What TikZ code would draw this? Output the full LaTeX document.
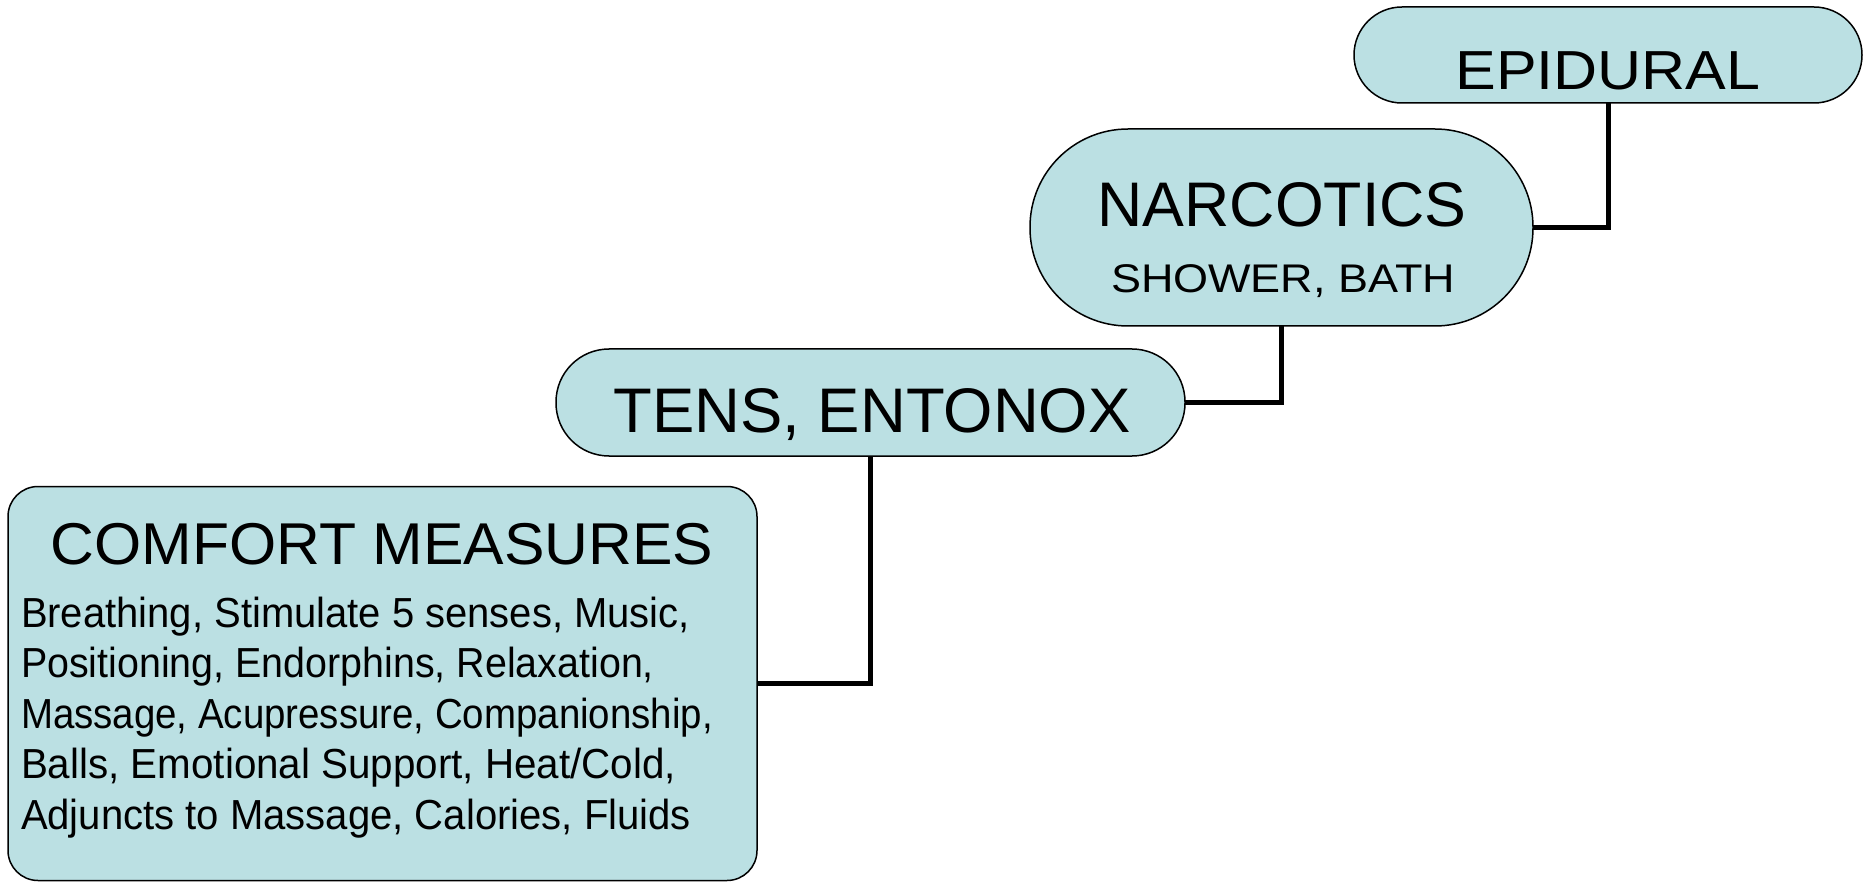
\documentclass[tikz,border=0pt]{standalone}
\usepackage{fontspec}
\setmainfont{Liberation Sans}
\usepackage{graphicx}
\definecolor{boxfill}{HTML}{BBE0E3}
\newsavebox\mybx
\newlength\mylen
\newcommand\fitw[2]{\sbox\mybx{#2}\setlength\mylen{\wd\mybx}\pgfmathsetmacro\rat{#1/\mylen}\scalebox{\rat}[1]{\usebox\mybx}}
\newcommand\fsz[1]{\fontsize{#1}{#1}\selectfont}
\tikzset{
  box/.style={draw=black, line width=1.5pt, fill=boxfill, inner sep=0pt, outer sep=0pt},
  conn/.style={draw=black, line width=5pt},
  txt/.style={inner sep=0pt, outer sep=0pt, text=black}
}
\begin{document}
\begin{tikzpicture}[x=1pt,y=-1pt]
\useasboundingbox (0,0) rectangle (1874,882);
% boxes
\node[box, minimum width=508pt, minimum height=96pt, rounded corners=48pt] (epi) at (1608,55) {};
\node[box, minimum width=503pt, minimum height=197pt, rounded corners=98pt] (nar) at (1281.5,227.5) {};
\node[box, minimum width=629pt, minimum height=107pt, rounded corners=53pt] (tens) at (870.5,402.5) {};
\node[box, minimum width=749pt, minimum height=394pt, rounded corners=30pt] (com) at (382.5,683.5) {};
% connectors
\draw[conn] (epi.south) |- (nar.east);
\draw[conn] (nar.south) |- (tens.east);
\draw[conn] (tens.south) |- (com.east);
% texts
\node[txt, anchor=base] (tepi) at (1608,90) {\fsz{55}\fitw{305pt}{EPIDURAL}};
\node[txt, anchor=base] (tnar) at (1282,227) {\fsz{63}\fitw{369pt}{NARCOTICS}};
\node[txt, anchor=base] (tsho) at (1283,293) {\fsz{40}\fitw{344pt}{SHOWER, BATH}};
\node[txt, anchor=base] (ttens) at (872,432) {\fsz{63}\fitw{517pt}{TENS, ENTONOX}};
\node[txt, anchor=base] (tcom) at (382,564) {\fsz{59}\fitw{663pt}{COMFORT MEASURES}};
\node[txt, anchor=base west] (l1) at (21,627) {\fsz{42}\fitw{669pt}{Breathing, Stimulate 5 senses, Music,}};
\node[txt, anchor=base west] (l2) at (21,677) {\fsz{42}\fitw{633pt}{Positioning, Endorphins, Relaxation,}};
\node[txt, anchor=base west] (l3) at (21,728) {\fsz{42}\fitw{692pt}{Massage, Acupressure, Companionship,}};
\node[txt, anchor=base west] (l4) at (21,778) {\fsz{42}\fitw{655pt}{Balls, Emotional Support, Heat/Cold,}};
\node[txt, anchor=base west] (l5) at (21,829) {\fsz{42}\fitw{670pt}{Adjuncts to Massage, Calories, Fluids}};
\end{tikzpicture}
\end{document}
